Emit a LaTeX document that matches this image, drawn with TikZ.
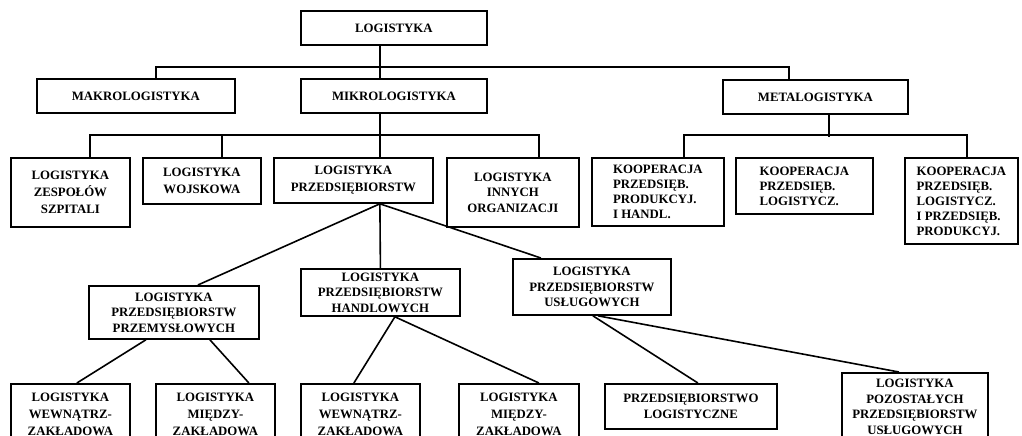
\documentclass[tikz,border=0pt]{standalone}
\usepackage{fontspec}
\setmainfont{Liberation Serif}
\begin{document}
\begin{tikzpicture}[x=1pt,y=-1pt,
  box/.style n args={2}{draw, line width=1.8pt, inner sep=0pt, anchor=north west,
    align=center, minimum width=#1pt, minimum height=#2pt,
    font=\bfseries\fontsize{12.8}{15.5}\selectfont},
  wide/.style={font=\bfseries\fontsize{12.8}{16.6}\selectfont},
  koop/.style={align=left, font=\bfseries\fontsize{12.8}{15}\selectfont},
  conn/.style={line width=1.6pt}]
\useasboundingbox (0,0) rectangle (1022,436);
\clip (0,0) rectangle (1022,436);

% level 0 and 1
\node[box={186}{34}] (log)   at (300,10) {LOGISTYKA};
\node[box={198}{34}] (makro) at (36,78)  {MAKROLOGISTYKA};
\node[box={186}{34}] (mikro) at (300,78) {MIKROLOGISTYKA};
\node[box={185}{34}] (meta)  at (722,79) {METALOGISTYKA};

% level 2
\node[box={119}{69},wide] (zesp)   at (10,157)  {LOGISTYKA\\ZESPOŁÓW\\SZPITALI};
\node[box={118}{46},wide] (wojsk)  at (142,157) {LOGISTYKA\\WOJSKOWA};
\node[box={159}{45},wide] (przeds) at (273,157) {LOGISTYKA\\PRZEDSIĘBIORSTW};
\node[box={132}{69}]      (innych) at (446,157) {LOGISTYKA\\INNYCH\\ORGANIZACJI};
\node[box={132}{68},koop] (koop1)  at (591,157) {KOOPERACJA\\PRZEDSIĘB.\\PRODUKCYJ.\\I HANDL.};
\node[box={137}{56},koop] (koop2)  at (735,157) {KOOPERACJA\\PRZEDSIĘB.\\LOGISTYCZ.};
\node[box={113}{86},koop] (koop3)  at (904,157) {KOOPERACJA\\PRZEDSIĘB.\\LOGISTYCZ.\\I PRZEDSIĘB.\\PRODUKCYJ.};

% level 3
\node[box={170}{53}] (przem) at (88,285)  {LOGISTYKA\\PRZEDSIĘBIORSTW\\PRZEMYSŁOWYCH};
\node[box={159}{47}] (handl) at (300,268) {LOGISTYKA\\PRZEDSIĘBIORSTW\\HANDLOWYCH};
\node[box={158}{56}] (uslug) at (512,258) {LOGISTYKA\\PRZEDSIĘBIORSTW\\USŁUGOWYCH};

% level 4
\node[box={119}{61},wide] (b1) at (10,383)  {LOGISTYKA\\WEWNĄTRZ-\\ZAKŁADOWA};
\node[box={119}{61},wide] (b2) at (155,383) {LOGISTYKA\\MIĘDZY-\\ZAKŁADOWA};
\node[box={119}{61},wide] (b3) at (300,383) {LOGISTYKA\\WEWNĄTRZ-\\ZAKŁADOWA};
\node[box={120}{61},wide] (b4) at (458,383) {LOGISTYKA\\MIĘDZY-\\ZAKŁADOWA};
\node[box={172}{45}]      (plog)   at (604,383) {PRZEDSIĘBIORSTWO\\LOGISTYCZNE};
\node[box={146}{68}]      (pozost) at (841,372) {LOGISTYKA\\POZOSTAŁYCH\\PRZEDSIĘBIORSTW\\USŁUGOWYCH};

% tree connectors
\draw[conn] ([xshift=-14pt]log.south) -- ([xshift=-14pt]mikro.north);
\draw[conn] ([xshift=20pt]makro.north) -- ++(0,-11) -| ([xshift=-26.5pt]meta.north);

\draw[conn] ([xshift=-14pt]mikro.south) -- ([xshift=26.5pt]przeds.north);
\draw[conn] ([xshift=19.5pt]zesp.north) -- ++(0,-22) -| ([xshift=26pt]innych.north);
\draw[conn] ([xshift=20pt]wojsk.north) -- ++(0,-22);

\draw[conn] ([xshift=13.5pt]meta.south) -- ++(0,22);
\draw[conn] ([xshift=26pt]koop1.north) -- ++(0,-22) -| ([xshift=5.5pt]koop3.north);

\draw[conn] ([xshift=26.5pt]przeds.south) -- ([xshift=24pt]przem.north);
\draw[conn] ([xshift=26.5pt]przeds.south) -- (handl.north);
\draw[conn] ([xshift=26.5pt]przeds.south) -- ([xshift=-51pt]uslug.north);

\draw[conn] ([xshift=-28pt]przem.south) -- ([xshift=6.5pt]b1.north);
\draw[conn] ([xshift=36pt]przem.south) -- ([xshift=33.5pt]b2.north);
\draw[conn] ([xshift=14.5pt]handl.south) -- ([xshift=-6.5pt]b3.north);
\draw[conn] ([xshift=14.5pt]handl.south) -- ([xshift=20pt]b4.north);
\draw[conn] ([xshift=1pt]uslug.south) -- ([xshift=7pt]plog.north);
\draw[conn] ([xshift=6pt]uslug.south) -- ([xshift=-16pt]pozost.north);
\end{tikzpicture}
\end{document}
